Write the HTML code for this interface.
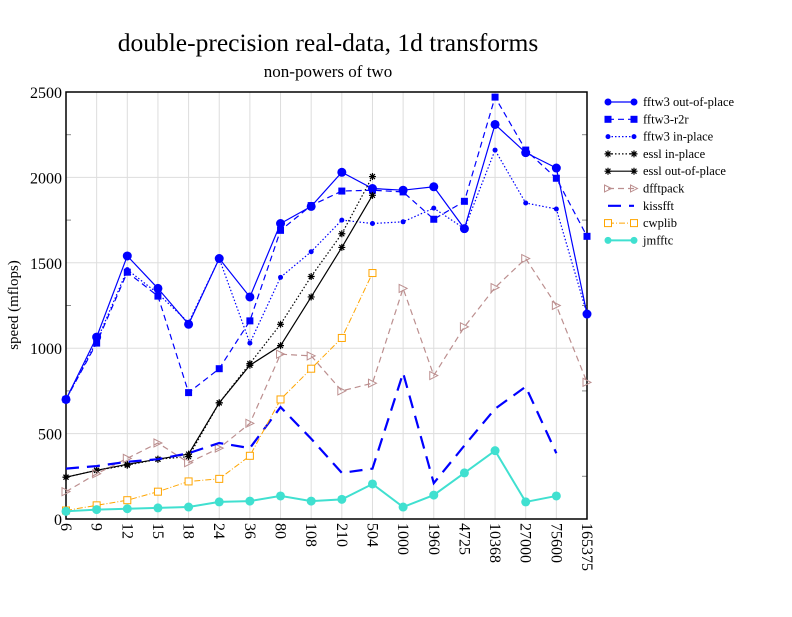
<!DOCTYPE html>
<html><head><meta charset="utf-8"><style>
body{margin:0;background:#fff}
svg text{font-family:"Liberation Serif",serif;fill:#000}
</style></head><body>
<svg id="chart" width="792" height="612" xmlns="http://www.w3.org/2000/svg">
<rect width="792" height="612" fill="#fff"/>
<text x="328" y="51" font-size="25.5" text-anchor="middle">double-precision real-data, 1d transforms</text>
<text x="328" y="77" font-size="17" text-anchor="middle">non-powers of two</text>
<text transform="translate(18,305) rotate(-90)" font-size="15" text-anchor="middle">speed (mflops)</text>
<g id="grid"></g><g id="axes"></g><g id="series"></g><g id="legend"></g>
</svg>
<script>
const categories=["6","9","12","15","18","24","36","80","108","210","504","1000","1960","4725","10368","27000","75600","165375"];
const yTicks=[0,500,1000,1500,2000,2500];
const fftwOut=[700,1065,1540,1350,1140,1525,1300,1730,1830,2030,1935,1925,1945,1700,2310,2145,2055,1200];
const fftwR2r=[700,1030,1445,1305,740,880,1160,1690,1835,1920,1925,1915,1755,1860,2470,2160,1995,1655];
const fftwIn=[700,1040,1460,1320,1150,1525,1030,1415,1565,1750,1730,1740,1820,1700,2160,1850,1815,1200];
const esslIn=[245,285,315,350,365,680,910,1140,1420,1670,2005,null,null,null,null,null,null,null];
const esslOut=[245,285,320,350,380,680,900,1015,1300,1590,1895,null,null,null,null,null,null,null];
const dfftpack=[160,265,355,445,330,415,560,965,955,750,795,1350,840,1125,1355,1525,1250,800];
const kissfft=[295,310,335,350,385,445,415,655,470,270,295,855,210,430,645,775,385,null];
const cwplib=[50,80,110,160,220,235,370,700,880,1060,1440,null,null,null,null,null,null,null];
const jmfftc=[45,55,60,65,70,100,105,135,105,115,205,70,140,270,400,100,135,null];

const L=66,R=587,T=92,B=519,NS="http://www.w3.org/2000/svg";
const xs=i=>L+i*(R-L)/(categories.length-1);
const ys=v=>B-v/2500*(B-T);
function mk(tag,attrs,parent){const e=document.createElementNS(NS,tag);for(const k in attrs)e.setAttribute(k,attrs[k]);parent.appendChild(e);return e;}
const grid=document.getElementById('grid'),axes=document.getElementById('axes'),ser=document.getElementById('series'),leg=document.getElementById('legend');
categories.forEach((c,i)=>{
 const g=mk('line',{x1:xs(i),x2:xs(i),y1:T,y2:B,stroke:'#ddd','stroke-width':1},grid);
 
 
 const t=mk('text',{x:0,y:0,'font-size':16,transform:`translate(${xs(i)-5},${B+4}) rotate(90)`},axes);
 t.textContent=c;
 
 
});
yTicks.forEach(v=>{
 const g=mk('line',{x1:L,x2:R,y1:ys(v),y2:ys(v),stroke:'#ddd','stroke-width':1},grid);
 
 
 const t=mk('text',{x:L-4,y:ys(v)+6,'font-size':16,'text-anchor':'end'},axes);
 t.textContent=v;
 
 
});
for(let v=250;v<2500;v+=500){mk('line',{x1:R-5,x2:R,y1:ys(v),y2:ys(v),stroke:'#888'},axes);mk('line',{x1:L,x2:L+5,y1:ys(v),y2:ys(v),stroke:'#888'},axes);}
const frame=mk('rect',{x:L,y:T,width:R-L,height:B-T,fill:'none',stroke:'#000','stroke-width':1.5},axes);



function marker(type,x,y,col,s,p){
 if(type==='circle')mk('circle',{cx:x,cy:y,r:s,fill:col},p);
 else if(type==='square')mk('rect',{x:x-s,y:y-s,width:2*s,height:2*s,fill:col},p);
 else if(type==='osquare')mk('rect',{x:x-s,y:y-s,width:2*s,height:2*s,fill:'#fff',stroke:col},p);
 else if(type==='tri')mk('path',{d:`M${x-s},${y-s}L${x+s},${y}L${x-s},${y+s}Z`,fill:'none',stroke:col},p);
 else if(type==='star'){let d='';for(let a=0;a<4;a++){const an=a*Math.PI/4;d+=`M${x-s*Math.cos(an)},${y-s*Math.sin(an)}L${x+s*Math.cos(an)},${y+s*Math.sin(an)}`;}mk('path',{d,stroke:col,'stroke-width':1.2},p);}
}
const defs=[
 {n:'fftw3 out-of-place',d:fftwOut,c:'#0000ff',w:1.2,da:'',m:'circle',s:4.5,id:'series-fftw3-out-of-place'},
 {n:'fftw3-r2r',d:fftwR2r,c:'#0000ff',w:1.2,da:'6,4',m:'square',s:3.5,id:'series-fftw3-r2r'},
 {n:'fftw3 in-place',d:fftwIn,c:'#0000ff',w:1.2,da:'1.5,2',m:'circle',s:2.5,id:'series-fftw3-in-place'},
 {n:'essl in-place',d:esslIn,c:'#000',w:1.2,da:'1.5,2',m:'star',s:3.5,id:'series-essl-in-place'},
 {n:'essl out-of-place',d:esslOut,c:'#000',w:1.2,da:'',m:'star',s:3.5,id:'series-essl-out-of-place'},
 {n:'dfftpack',d:dfftpack,c:'#bc8f8f',w:1.2,da:'6,4',m:'tri',s:4,id:'series-dfftpack'},
 {n:'kissfft',d:kissfft,c:'#0000ff',w:2.2,da:'13,8',m:null,s:0,id:'series-kissfft'},
 {n:'cwplib',d:cwplib,c:'#ffa500',w:1,da:'6,2,1,2',m:'osquare',s:3.5,id:'series-cwplib'},
 {n:'jmfftc',d:jmfftc,c:'#40e0d0',w:2,da:'',m:'circle',s:4.5,id:'series-jmfftc'}
];
defs.forEach((s,k)=>{
 const g=mk('g',{},ser);
 
 
 let d='';s.d.forEach((v,i)=>{if(v==null)return;d+=(d?'L':'M')+xs(i)+','+ys(v);});
 mk('path',{d,fill:'none',stroke:s.c,'stroke-width':s.w,'stroke-dasharray':s.da},g);
 if(s.m)s.d.forEach((v,i)=>{if(v!=null)marker(s.m,xs(i),ys(v),s.c,s.s,g);});
 const y=102+k*17.3;
 const lg=mk('g',{},leg);
 
 
 mk('line',{x1:608,x2:634,y1:y,y2:y,stroke:s.c,'stroke-width':s.w,'stroke-dasharray':s.da},lg);
 if(s.m){marker(s.m,608,y,s.c,Math.min(s.s,3.5),lg);marker(s.m,634,y,s.c,Math.min(s.s,3.5),lg);}
 const t=mk('text',{x:643,y:y+4,'font-size':12.5},lg);
 t.textContent=s.n;
});
</script>
</body></html>
